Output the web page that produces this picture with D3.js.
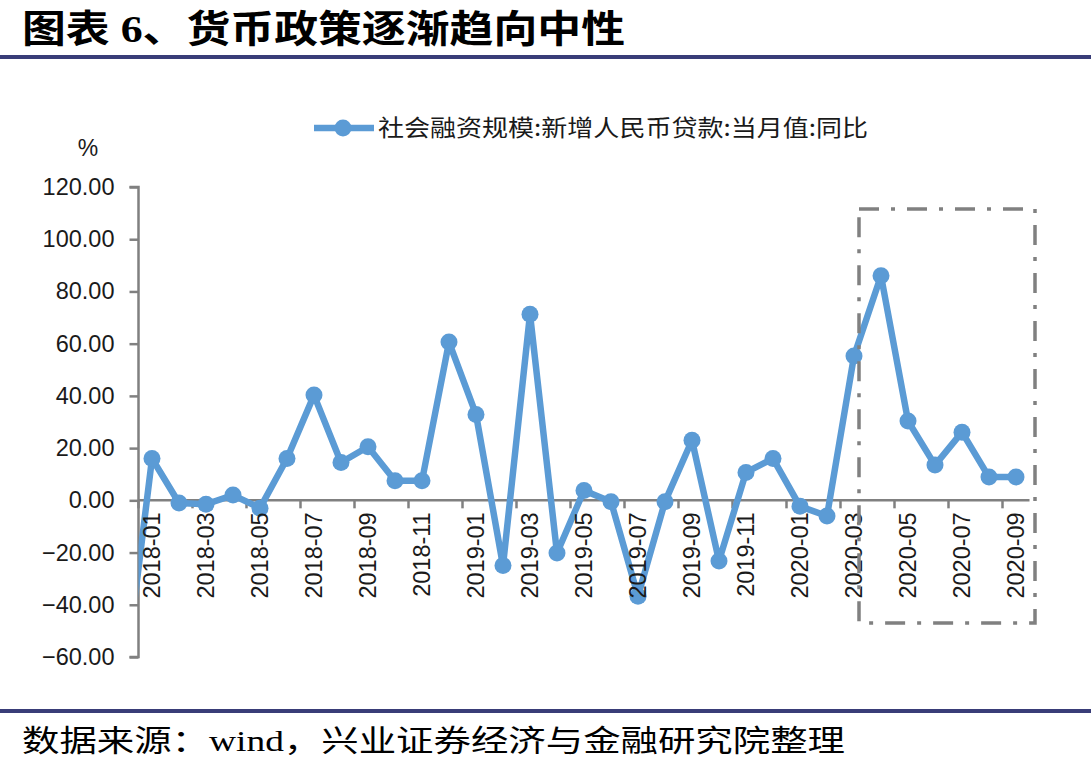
<!DOCTYPE html>
<head>
    <meta charset="utf-8">
    <script src="https://d3js.org/d3.v7.min.js"></script>
    <style>
        body { margin: 0; background: #fff; }
        .axis text { font-family: "Liberation Sans", Arial, sans-serif; font-size: 23.5px; fill: #1a1a1a; }
        .cjk { font-family: "Noto Sans CJK SC", sans-serif; }
    </style>
</head>
<body>
<svg id="svg" width="1091" height="770"></svg>
<script>
// data (yoy %, new RMB loans in TSF, monthly)
var months = ["2017-12",
    "2018-01","2018-02","2018-03","2018-04","2018-05","2018-06","2018-07","2018-08","2018-09","2018-10","2018-11","2018-12",
    "2019-01","2019-02","2019-03","2019-04","2019-05","2019-06","2019-07","2019-08","2019-09","2019-10","2019-11","2019-12",
    "2020-01","2020-02","2020-03","2020-04","2020-05","2020-06","2020-07","2020-08","2020-09"];
var values = [-68,
    16.0, -1.0, -1.5, 2.0, -3.0, 16.0, 40.3, 14.5, 20.5, 7.5, 7.5, 60.6,
    32.9, -25.0, 71.3, -20.2, 3.8, -0.5, -36.7, -0.5, 23.0, -23.2, 10.7, 16.0,
    -2.3, -6.0, 55.3, 86.0, 30.4, 13.5, 26.1, 8.9, 8.9];
var yTicks = [-60, -40, -20, 0, 20, 40, 60, 80, 100, 120];
var labelMonths = months.filter(function (m, i) { return i > 0 && (+m.slice(5)) % 2 === 1; });
var seriesName = "社会融资规模:新增人民币贷款:当月值:同比";
var title = "图表 6、货币政策逐渐趋向中性";
var source = "数据来源：wind，兴业证券经济与金融研究院整理";

var svg = d3.select("#svg");
var blue = "#5B9BD5", grey = "#808080", navy = "#393d78";

var x = d3.scalePoint().domain(months).range([125, 1016]);
var step = x.step();
var y = d3.scaleLinear().domain([-60, 120]).range([657, 187]);
var left = x(months[1]) - step / 2, right = x(months[months.length - 1]) + step / 2;

// header / footer
svg.append("text").attr("x", 22).attr("y", 42)
    .attr("font-family", "'Liberation Serif', 'Noto Sans CJK SC', serif")
    .attr("font-weight", "bold").attr("font-size", 38)
    .attr("textLength", 603).attr("lengthAdjust", "spacingAndGlyphs")
    .text(title);
svg.append("rect").attr("x", 0).attr("y", 55).attr("width", 1091).attr("height", 4).attr("fill", navy);
svg.append("rect").attr("x", 0).attr("y", 709).attr("width", 1091).attr("height", 4).attr("fill", navy);
svg.append("text").attr("x", 22).attr("y", 751)
    .attr("font-family", "'Liberation Serif', 'Noto Sans CJK SC', serif")
    .attr("font-size", 30)
    .attr("textLength", 823).attr("lengthAdjust", "spacingAndGlyphs")
    .text(source);

// legend
svg.append("line").attr("x1", 314).attr("x2", 374).attr("y1", 128).attr("y2", 128)
    .attr("stroke", blue).attr("stroke-width", 6.5);
svg.append("circle").attr("cx", 343).attr("cy", 128).attr("r", 8.5).attr("fill", blue);
svg.append("text").attr("class", "cjk").attr("x", 378).attr("y", 136)
    .attr("font-size", 23).attr("fill", "#1a1a1a")
    .attr("textLength", 490).attr("lengthAdjust", "spacingAndGlyphs")
    .text(seriesName);

svg.append("text").attr("x", 88).attr("y", 156).attr("text-anchor", "middle")
    .attr("font-family", "'Liberation Sans', Arial, sans-serif").attr("font-size", 23).attr("fill", "#1a1a1a")
    .text("%");

// y axis
var yAxis = svg.append("g").attr("class", "axis")
    .attr("transform", "translate(" + left + ",0)")
    .call(d3.axisLeft(y).tickValues(yTicks).tickSize(9).tickPadding(15)
        .tickFormat(function (d) { return d3.format(".2f")(d); }));
yAxis.selectAll("line, path").attr("stroke", grey).attr("stroke-width", 2.5);
yAxis.select(".domain").attr("d", "M-9," + y(120) + "H0V" + y(-60) + "H-9");

// x axis at zero
var xg = svg.append("g").attr("transform", "translate(0," + y(0) + ")");
xg.append("line").attr("x1", left).attr("x2", right).attr("stroke", grey).attr("stroke-width", 2.5);
xg.selectAll(".tk").data(labelMonths).enter().append("line")
    .attr("x1", function (d) { return x(d) - step / 2; })
    .attr("x2", function (d) { return x(d) - step / 2; })
    .attr("y1", 0).attr("y2", 8).attr("stroke", grey).attr("stroke-width", 2.5);

// series
svg.append("clipPath").attr("id", "plot").append("rect")
    .attr("x", left).attr("y", 0).attr("width", 1091 - left).attr("height", 700);
var pts = months.map(function (m, i) { return [x(m), y(values[i])]; });
var g = svg.append("g").attr("clip-path", "url(#plot)");
g.append("path").attr("d", d3.line()(pts)).attr("fill", "none")
    .attr("stroke", blue).attr("stroke-width", 6.5).attr("stroke-linejoin", "round");
g.selectAll("circle").data(pts.slice(1)).enter().append("circle")
    .attr("cx", function (d) { return d[0]; }).attr("cy", function (d) { return d[1]; })
    .attr("r", 8.5).attr("fill", blue);

// x labels, rotated
var xl = svg.append("g").attr("class", "axis");
xl.selectAll("text").data(labelMonths).enter().append("text")
    .attr("transform", function (d) { return "translate(" + x(d) + "," + (y(0) + 12) + ") rotate(-90)"; })
    .attr("text-anchor", "end").attr("dy", "0.36em")
    .text(function (d) { return d; });

// highlight box
svg.append("rect")
    .attr("x", x("2020-03") + 5).attr("y", y(111.6))
    .attr("width", x("2020-09") + 19 - x("2020-03") - 5).attr("height", y(-47) - y(111.6))
    .attr("fill", "none").attr("stroke", grey).attr("stroke-width", 3.5)
    .attr("stroke-dasharray", "20,12,4,12");
</script>
</body>
